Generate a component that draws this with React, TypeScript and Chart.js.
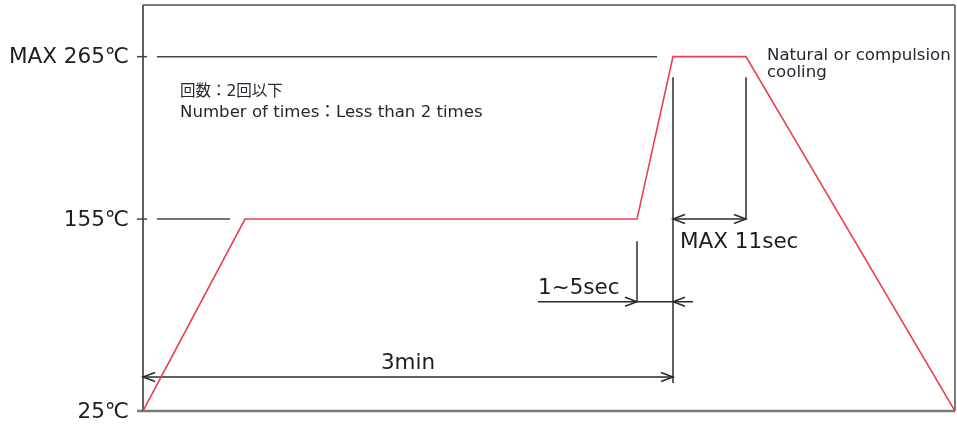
import React, { useEffect, useRef } from "react";
import { Chart, registerables } from "chart.js";

Chart.register(...registerables);

// Reflow profile (schematic time units, temperature in ℃)
const profileTime = [0, 102, 494, 530, 603, 812];
const profileTemp = [25, 155, 155, 265, 265, 25];
const tempTicks = [25, 155, 265];
const tempTickLabels = ["25℃", "155℃", "MAX 265℃"];
const timeRange = [0, 812];
const tempRange = [25, 300];

// Key moments of the profile
const preheatEnd = 494;
const peakStart = 530;
const peakEnd = 603;

// Annotation texts
const noteJa = "回数：2回以下";
const noteEn = "Number of times：Less than 2 times";
const coolingLines = ["Natural or compulsion", "cooling"];
const label11 = "MAX 11sec";
const label15 = "1~5sec";
const label3 = "3min";

const RED = "#e8404e";
const DARK = "#2b2b2b";
const GREY = "#7a7a7a";
const BIG = '21.5px "DejaVu Sans", sans-serif';
const SMALL = '16.6px "DejaVu Sans", "Noto Sans CJK JP", sans-serif';
const SMALL_JA = '15.5px "DejaVu Sans", "Noto Sans CJK JP", sans-serif';

function arrowHead(ctx: CanvasRenderingContext2D, x: number, y: number, dir: number) {
  // open V arrowhead whose tip is at (x,y); dir=+1 points right, -1 points left
  ctx.beginPath();
  ctx.moveTo(x - dir * 12, y - 4.5);
  ctx.lineTo(x, y);
  ctx.lineTo(x - dir * 12, y + 4.5);
  ctx.stroke();
}

function line(ctx: CanvasRenderingContext2D, x1: number, y1: number, x2: number, y2: number) {
  ctx.beginPath();
  ctx.moveTo(x1, y1);
  ctx.lineTo(x2, y2);
  ctx.stroke();
}

const schematicPlugin = {
  id: "schematic",
  beforeDatasetsDraw(chart: any) {
    const { ctx, chartArea, scales } = chart;
    const X = (v: number) => scales.x.getPixelForValue(v);
    const Y = (v: number) => scales.y.getPixelForValue(v);
    ctx.save();
    ctx.lineCap = "butt";

    // frame
    ctx.strokeStyle = GREY;
    ctx.lineWidth = 2;
    line(ctx, chartArea.left, chartArea.top, chartArea.right, chartArea.top);
    line(ctx, chartArea.right, chartArea.top, chartArea.right, chartArea.bottom);
    ctx.lineWidth = 2.5;
    line(ctx, chartArea.left - 6, chartArea.bottom, chartArea.right, chartArea.bottom);
    ctx.strokeStyle = DARK;
    ctx.lineWidth = 1.5;
    line(ctx, chartArea.left, chartArea.top, chartArea.left, chartArea.bottom);

    // temperature reference lines
    ctx.strokeStyle = "#444";
    ctx.lineWidth = 1.5;
    line(ctx, chartArea.left - 6, Y(265), chartArea.left + 4, Y(265));
    line(ctx, X(14), Y(265), X(514), Y(265));
    line(ctx, chartArea.left - 6, Y(155), chartArea.left + 4, Y(155));
    line(ctx, X(14), Y(155), X(87), Y(155));

    ctx.strokeStyle = DARK;
    // vertical markers
    line(ctx, X(peakStart), Y(251), X(peakStart), Y(44));
    line(ctx, X(peakEnd), Y(251), X(peakEnd), Y(155));
    line(ctx, X(preheatEnd), Y(140), X(preheatEnd), Y(99));

    // MAX 11sec dimension
    line(ctx, X(peakStart), Y(155), X(peakEnd), Y(155));
    arrowHead(ctx, X(peakStart), Y(155), -1);
    arrowHead(ctx, X(peakEnd), Y(155), 1);

    // 1~5sec dimension
    line(ctx, X(395), Y(99), X(550), Y(99));
    arrowHead(ctx, X(preheatEnd), Y(99), 1);
    arrowHead(ctx, X(peakStart), Y(99), -1);

    // 3min dimension
    line(ctx, X(0), Y(48), X(peakStart), Y(48));
    arrowHead(ctx, X(0), Y(48), -1);
    arrowHead(ctx, X(peakStart), Y(48), 1);
    ctx.restore();
  },
  afterDatasetsDraw(chart: any) {
    const { ctx, chartArea, scales } = chart;
    const X = (v: number) => scales.x.getPixelForValue(v);
    const Y = (v: number) => scales.y.getPixelForValue(v);
    ctx.save();
    ctx.textBaseline = "middle";

    // y labels
    ctx.fillStyle = "#1e1e1e";
    ctx.font = BIG;
    ctx.textAlign = "right";
    tempTicks.forEach((t, i) => {
      ctx.fillText(tempTickLabels[i], chartArea.left - 14, Y(t) + 1);
    });

    // dimension labels
    ctx.textAlign = "left";
    ctx.fillText(label11, X(537), Y(139));
    ctx.fillText(label15, X(395), Y(108));
    ctx.textAlign = "center";
    ctx.fillText(label3, X(265), Y(57));

    // notes
    ctx.textAlign = "left";
    ctx.fillStyle = "#222831";
    ctx.font = SMALL_JA;
    ctx.fillText(noteJa, X(37), Y(241));
    ctx.font = SMALL;
    ctx.fillText(noteEn, X(37), Y(227));
    ctx.fillText(coolingLines[0], X(624), Y(266));
    ctx.fillText(coolingLines[1], X(624), Y(254));
    ctx.restore();
  },
};

export default function App() {
  const ref = useRef<HTMLCanvasElement | null>(null);
  useEffect(() => {
    if (!ref.current) return;
    const chart = new Chart(ref.current, {
      type: "line",
      data: {
        datasets: [
          {
            data: profileTime.map((t, i) => ({ x: t, y: profileTemp[i] })),
            borderColor: RED,
            borderWidth: 1.6,
            pointRadius: 0,
            tension: 0,
            fill: false,
          },
        ],
      },
      options: {
        animation: false,
        responsive: false,
        layout: { padding: { left: 143, right: 2, top: 5, bottom: 16 } },
        plugins: { legend: { display: false }, tooltip: { enabled: false } },
        scales: {
          x: { type: "linear", min: timeRange[0], max: timeRange[1], display: false },
          y: { type: "linear", min: tempRange[0], max: tempRange[1], display: false },
        },
      },
      plugins: [schematicPlugin],
    });
    return () => chart.destroy();
  }, []);
  return (
    <div style={{ position: "fixed", left: 0, top: 0, width: 957, height: 427, background: "#fff" }}>
      <canvas ref={ref} width={957} height={427} style={{ display: "block" }} />
    </div>
  );
}
